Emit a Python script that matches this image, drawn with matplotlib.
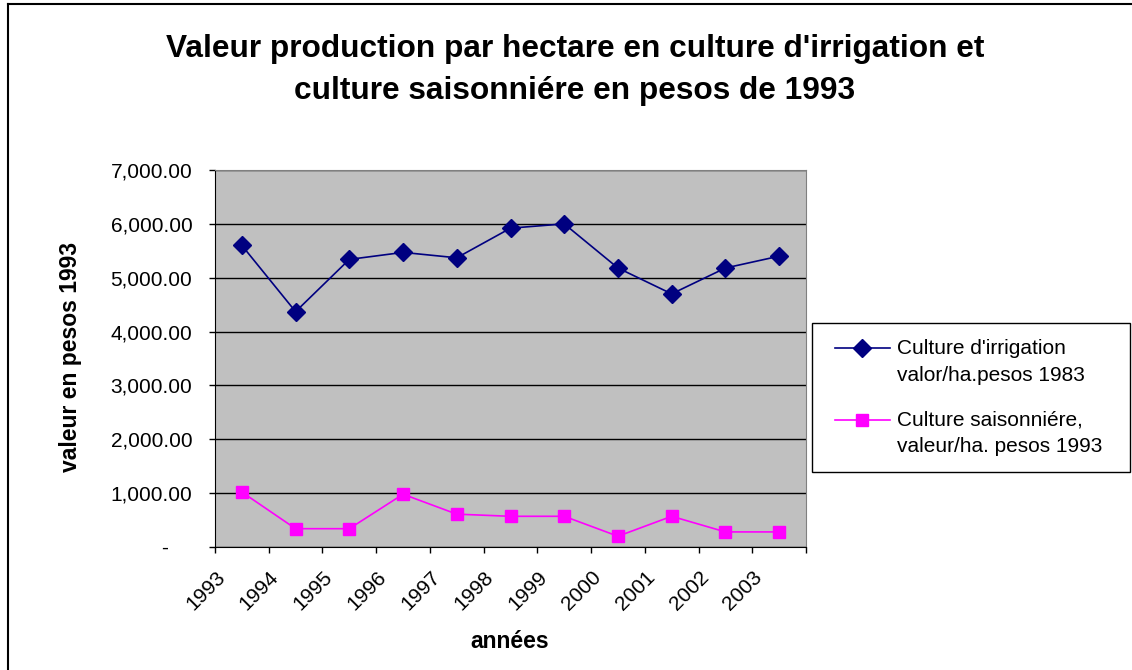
import numpy as np
import matplotlib.pyplot as plt
import matplotlib.transforms as mtransforms
from matplotlib.lines import Line2D
from matplotlib.ticker import FuncFormatter
from matplotlib.legend_handler import HandlerLine2D

# data
years = ['1993', '1994', '1995', '1996', '1997', '1998',
         '1999', '2000', '2001', '2002', '2003']
irrigation = [5600, 4370, 5340, 5470, 5370, 5920, 6000, 5180, 4700, 5180, 5400]
saisonniere = [1020, 340, 340, 980, 610, 570, 570, 200, 570, 280, 280]

plt.rcParams['font.family'] = ['Liberation Sans', 'DejaVu Sans']


# legend handle sitting on the first line of a two-line label (like Excel)
class FirstLineHandler(HandlerLine2D):
    def create_artists(self, legend, orig_handle, xdescent, ydescent,
                       width, height, fontsize, trans):
        arts = super().create_artists(legend, orig_handle, xdescent, ydescent,
                                      width, height, fontsize, trans)
        for a in arts:
            xd = np.asarray(a.get_xdata(), dtype=float)
            a.set_xdata(np.linspace(xd[0] + 5, xd[-1], len(xd)))
            a.set_ydata(np.asarray(a.get_ydata(), dtype=float) + 10)
        return arts


W, H = 1132, 670
fig = plt.figure(figsize=(W / 100, H / 100), dpi=100)
ax = fig.add_axes([215 / W, 123 / H, 591 / W, 377 / H])
ax.set_facecolor('#c0c0c0')

x = np.arange(len(years))
ax.plot(x, irrigation, color='#000080', marker='D', ms=9.5, lw=1.2,
        label="Culture d'irrigation\nvalor/ha.pesos 1983")
ax.plot(x, saisonniere, color='#ff00ff', marker='s', ms=8.5, lw=1.2,
        label='Culture saisonniére,\nvaleur/ha. pesos 1993')

# axes
ax.set_xlim(-0.5, len(years) - 0.5)
ax.set_ylim(0, 7000)
ax.set_yticks(np.arange(0, 7001, 1000))
ax.yaxis.set_major_formatter(FuncFormatter(lambda v, p: '-    ' if v == 0 else f'{v:,.2f}'))
ax.grid(axis='y', color='black', lw=1)
ax.set_axisbelow(True)

ax.tick_params(axis='both', direction='out', length=4.3, width=1,
               labelsize=15, color='black')
ax.tick_params(axis='x', pad=15)
ax.tick_params(axis='y', pad=12)

ax.set_xticks(np.arange(-0.5, len(years), 1))
ax.set_xticklabels(years + [''], rotation=45, ha='right', va='center',
                   rotation_mode='anchor')
# year labels sit just right of the category's left tick
shift = mtransforms.ScaledTranslation(7 / 100, 0, fig.dpi_scale_trans)
for lab in ax.get_xticklabels():
    lab.set_transform(lab.get_transform() + shift)

for s in ['top', 'right']:
    ax.spines[s].set_color('#808080')
for s in ['left', 'bottom']:
    ax.spines[s].set_color('black')

# titles
fig.text(575 / W, 1 - 70 / H,
         "Valeur production par hectare en culture d'irrigation et\n"
         "culture saisonniére en pesos de 1993",
         ha='center', va='center', fontsize=22.8, fontweight='bold', linespacing=1.55)
fig.text(70 / W, 1 - 357 / H, 'valeur en pesos 1993', rotation=90,
         ha='center', va='center', fontsize=16.5, fontweight='bold')
fig.text(510 / W, 1 - 642 / H, 'années', ha='center', va='center',
         fontsize=16.5, fontweight='bold')

# legend
leg = ax.legend(loc='upper left', bbox_to_anchor=(812 / W, 1 - 474 / H, 318 / W, 151 / H),
                bbox_transform=fig.transFigure, mode='expand', fontsize=15,
                fancybox=False, edgecolor='black', framealpha=1,
                handlelength=2.98, handletextpad=0.34, borderpad=0.75,
                labelspacing=1.2, borderaxespad=0,
                handler_map={Line2D: FirstLineHandler()})
leg.get_frame().set_linewidth(1)
for t in leg.get_texts():
    t.set_linespacing(1.56)

# chart border (left and top edges visible)
fig.add_artist(Line2D([8 / W, 8 / W], [0, 1 - 4 / H], transform=fig.transFigure,
                      color='black', lw=1.5))
fig.add_artist(Line2D([8 / W, 1], [1 - 4 / H, 1 - 4 / H], transform=fig.transFigure,
                      color='black', lw=1.5))

fig.savefig('out.png', dpi=100)
